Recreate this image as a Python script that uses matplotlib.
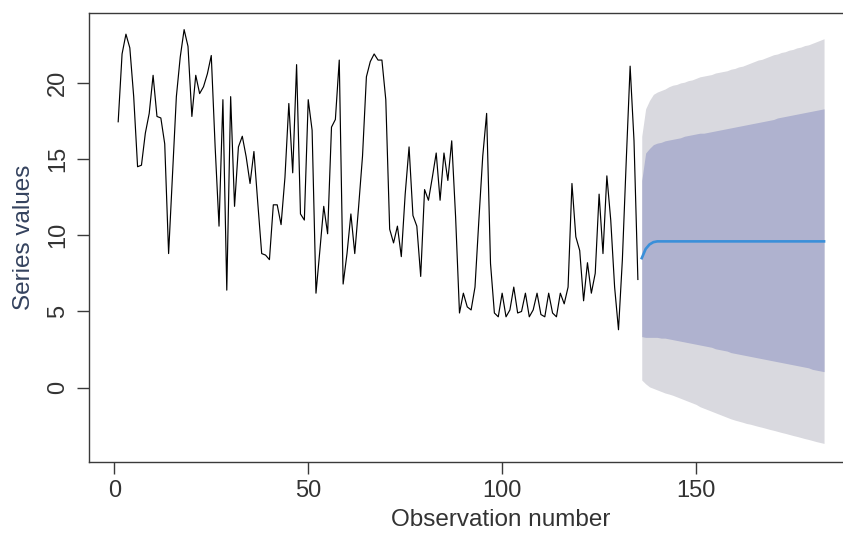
import matplotlib
matplotlib.use("Agg")
import numpy as np
import matplotlib.pyplot as plt

# observed series (observation 1..135)
series = [
    17.45, 21.9, 23.2, 22.3, 19.1, 14.5, 14.6, 16.7, 18.0, 20.5,
    17.8, 17.7, 16.0, 8.8, 14.0, 19.1, 21.7, 23.5, 22.4, 17.8,
    20.5, 19.3, 19.75, 20.6, 21.8, 15.8, 10.6, 18.9, 6.4, 19.1,
    11.9, 15.8, 16.5, 15.15, 13.4, 15.5, 12.1, 8.8, 8.7, 8.4,
    12.0, 12.0, 10.7, 13.8, 18.65, 14.1, 21.2, 11.4, 11.0, 18.9,
    16.9, 6.2, 9.0, 11.9, 10.1, 17.1, 17.6, 21.5, 6.8, 8.8,
    11.4, 8.8, 11.9, 15.2, 20.4, 21.4, 21.9, 21.5, 21.5, 18.9,
    10.4, 9.5, 10.6, 8.6, 12.7, 15.8, 11.3, 10.6, 7.3, 13.0,
    12.3, 13.8, 15.4, 12.3, 15.4, 13.6, 16.2, 11.2, 4.9, 6.2,
    5.3, 5.1, 6.6, 11.0, 15.2, 18.0, 8.15, 4.9, 4.65, 6.2,
    4.65, 5.1, 6.6, 4.9, 5.0, 6.2, 4.65, 5.1, 6.2, 4.8,
    4.65, 6.2, 4.9, 4.65, 6.2, 5.5, 6.6, 13.4, 9.9, 9.0,
    5.7, 8.2, 6.2, 7.5, 12.7, 8.8, 13.9, 11.0, 6.6, 3.8,
    8.4, 14.9, 21.1, 16.2, 7.1,
]

# forecast, 48 steps ahead
fc_mean = [
    8.5, 9.1, 9.4, 9.55, 9.6, 9.6, 9.6, 9.6, 9.6, 9.6, 9.6, 9.6,
    9.6, 9.6, 9.6, 9.6, 9.6, 9.6, 9.6, 9.6, 9.6, 9.6, 9.6, 9.6,
    9.6, 9.6, 9.6, 9.6, 9.6, 9.6, 9.6, 9.6, 9.6, 9.6, 9.6, 9.6,
    9.6, 9.6, 9.6, 9.6, 9.6, 9.6, 9.6, 9.6, 9.6, 9.6, 9.6, 9.6,
]
upper80 = [
    13.6, 15.4, 15.7, 15.95, 16.05, 16.1, 16.2, 16.25, 16.3, 16.35, 16.4, 16.5,
    16.55, 16.6, 16.65, 16.7, 16.7, 16.75, 16.8, 16.85, 16.9, 16.95, 17.0, 17.05,
    17.1, 17.15, 17.2, 17.25, 17.3, 17.35, 17.4, 17.45, 17.5, 17.55, 17.6, 17.7,
    17.75, 17.8, 17.85, 17.9, 17.95, 18.0, 18.05, 18.1, 18.15, 18.2, 18.25, 18.3,
]
lower80 = [
    3.35, 3.3, 3.3, 3.3, 3.3, 3.25, 3.25, 3.2, 3.15, 3.1, 3.05, 3.0,
    2.95, 2.9, 2.85, 2.8, 2.75, 2.7, 2.65, 2.55, 2.5, 2.45, 2.4, 2.3,
    2.25, 2.2, 2.15, 2.1, 2.05, 2.0, 1.95, 1.9, 1.85, 1.8, 1.75, 1.7,
    1.65, 1.6, 1.55, 1.5, 1.45, 1.4, 1.35, 1.3, 1.2, 1.15, 1.1, 1.05,
]
upper95 = [
    16.5, 18.3, 18.85, 19.25, 19.4, 19.5, 19.6, 19.75, 19.85, 19.9, 20.0, 20.05,
    20.15, 20.2, 20.3, 20.4, 20.45, 20.5, 20.55, 20.65, 20.7, 20.75, 20.8, 20.9,
    20.95, 21.05, 21.1, 21.2, 21.3, 21.4, 21.5, 21.55, 21.65, 21.75, 21.85, 21.9,
    22.0, 22.05, 22.15, 22.2, 22.3, 22.35, 22.45, 22.5, 22.6, 22.7, 22.8, 22.9,
]
lower95 = [
    0.5, 0.25, 0.05, -0.05, -0.15, -0.25, -0.35, -0.42, -0.5, -0.6, -0.7, -0.8,
    -0.9, -1.0, -1.1, -1.25, -1.35, -1.45, -1.55, -1.65, -1.75, -1.85, -1.95, -2.05,
    -2.13, -2.2, -2.27, -2.35, -2.4, -2.47, -2.54, -2.6, -2.67, -2.74, -2.8, -2.87,
    -2.94, -3.0, -3.07, -3.14, -3.2, -3.27, -3.34, -3.4, -3.47, -3.54, -3.6, -3.66,
]

x_ticks = [0, 50, 100, 150]
y_ticks = [0, 5, 10, 15, 20]

plt.rcParams["font.family"] = ["Liberation Sans", "DejaVu Sans"]

n = len(series)
obs = np.arange(1, n + 1)
fc_x = np.arange(n + 1, n + 1 + len(fc_mean))

fig = plt.figure(figsize=(8.43, 5.34), dpi=100)
# axes runs past the right edge, the reference is cropped there
ax = fig.add_axes([0.1056, 0.1354, 0.9775, 0.8397])

ax.fill_between(fc_x, lower95, upper95, color="#D9D9DF", linewidth=0)
ax.fill_between(fc_x, lower80, upper80, color="#AFB2CF", linewidth=0)
ax.plot(obs, series, color="black", lw=0.85)
ax.plot(fc_x, fc_mean, color="#3A8FD9", lw=1.9)

ax.set_xlim(-6.52, 205.95)
ax.set_ylim(-4.86, 24.57)
ax.set_xticks(x_ticks)
ax.set_yticks(y_ticks)

box = "#3a3a3a"
for s in ax.spines.values():
    s.set_color(box)
    s.set_linewidth(1.0)
ax.tick_params(axis="both", direction="out", length=8.3, width=1.0,
               color=box, labelsize=17, labelcolor="#333333")
ax.tick_params(axis="x", pad=5)
ax.tick_params(axis="y", pad=6)
for lbl in ax.get_yticklabels():
    lbl.set_rotation(90)
    lbl.set_va("center")

ax.set_xlabel("Observation number", fontsize=17.5, color="#333333")
ax.set_ylabel("Series values", fontsize=17.5, color="#34425E")
ax.xaxis.set_label_coords(0.5, -0.105)
ax.yaxis.set_label_coords(-0.066, 0.5)

fig.savefig("out.png", dpi=100)
